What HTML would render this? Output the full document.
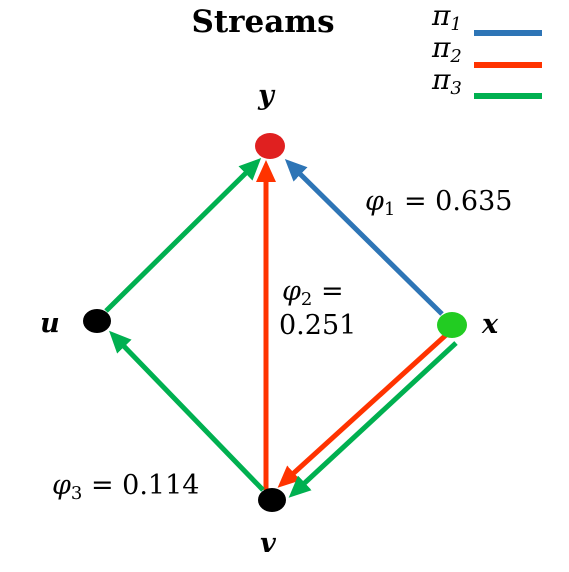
<!DOCTYPE html>
<html><head><meta charset="utf-8"><style>
html,body{margin:0;padding:0;background:#fff;}
svg{display:block;font-family:"DejaVu Serif","Liberation Serif",serif;}
</style></head><body>
<svg width="569" height="572" viewBox="0 0 569 572">
<defs>
<marker id="ab" markerWidth="4.4" markerHeight="4" refX="2.4" refY="2" orient="auto"><path d="M0,0 L4.4,2 L0,4 Z" fill="#2e75b6"/></marker>
<marker id="ar" markerWidth="4.4" markerHeight="4" refX="2.4" refY="2" orient="auto"><path d="M0,0 L4.4,2 L0,4 Z" fill="#ff3300"/></marker>
<marker id="ag" markerWidth="4.4" markerHeight="4" refX="2.4" refY="2" orient="auto"><path d="M0,0 L4.4,2 L0,4 Z" fill="#00b050"/></marker>
</defs>
<text x="263" y="32" font-size="31" font-weight="bold" text-anchor="middle">Streams</text>
<g>
<text x="432" y="25" font-size="28" font-style="italic">π<tspan font-size="18" dy="5">1</tspan></text>
<line x1="474" y1="33" x2="542" y2="33" stroke="#2e75b6" stroke-width="6"/>
<text x="432" y="57" font-size="28" font-style="italic">π<tspan font-size="18" dy="5">2</tspan></text>
<line x1="474" y1="65" x2="542" y2="65" stroke="#ff3300" stroke-width="6"/>
<text x="432" y="89" font-size="28" font-style="italic">π<tspan font-size="18" dy="5">3</tspan></text>
<line x1="474" y1="96" x2="542" y2="96" stroke="#00b050" stroke-width="6"/>
</g>
<g stroke-width="5" fill="none">
<line x1="442" y1="314" x2="292" y2="166" stroke="#2e75b6" marker-end="url(#ab)"/>
<line x1="266" y1="490" x2="266" y2="170" stroke="#ff3300" marker-end="url(#ar)"/>
<line x1="106" y1="311" x2="254" y2="165" stroke="#00b050" marker-end="url(#ag)"/>
<line x1="263" y1="490" x2="116" y2="338" stroke="#00b050" marker-end="url(#ag)"/>
<line x1="446" y1="335" x2="285" y2="481" stroke="#ff3300" marker-end="url(#ar)"/>
<line x1="456" y1="343" x2="296" y2="491" stroke="#00b050" marker-end="url(#ag)"/>
</g>
<ellipse cx="270" cy="146" rx="15" ry="13" fill="#e02020"/>
<ellipse cx="452" cy="325" rx="15" ry="13" fill="#22cc22"/>
<ellipse cx="97" cy="321" rx="14" ry="12" fill="#000"/>
<ellipse cx="272" cy="500" rx="14" ry="12" fill="#000"/>
<g font-size="27" font-weight="bold" font-style="italic">
<text x="266" y="104" text-anchor="middle">y</text>
<text x="490" y="333" text-anchor="middle">x</text>
<text x="50" y="332" text-anchor="middle">u</text>
<text x="268" y="552" text-anchor="middle">v</text>
</g>
<g font-size="27">
<text x="365" y="210"><tspan font-style="italic">φ</tspan><tspan font-size="18" dy="5">1</tspan><tspan dy="-5"> = 0.635</tspan></text>
<text x="282" y="300"><tspan font-style="italic">φ</tspan><tspan font-size="18" dy="5">2</tspan><tspan dy="-5"> =</tspan></text>
<text x="279" y="334">0.251</text>
<text x="52" y="494"><tspan font-style="italic">φ</tspan><tspan font-size="18" dy="5">3</tspan><tspan dy="-5"> = 0.114</tspan></text>
</g>
</svg>
</body></html>
